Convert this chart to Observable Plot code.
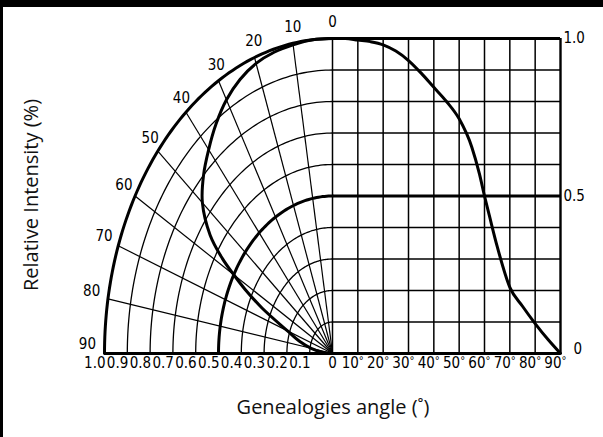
<!DOCTYPE html>
<html><head><meta charset="utf-8">
<script src="https://cdn.jsdelivr.net/npm/d3@7"></script>
<script src="https://cdn.jsdelivr.net/npm/@observablehq/plot@0.6"></script>
<style>
html,body{margin:0;padding:0;background:#fff;}
#wrap{position:relative;width:603px;height:437px;overflow:hidden;background:#fff;}
#chart{position:absolute;left:0;top:0;}
.bar-top{position:absolute;left:0;top:0;width:603px;height:7px;background:#000;}
.bar-left{position:absolute;left:0;top:0;width:3px;height:437px;background:#000;}
.ytitle{position:absolute;left:30px;top:195px;transform:translate(-50%,-50%) rotate(-90deg);white-space:nowrap;font-family:"Open Sans",sans-serif;font-size:20px;color:#111;}
.xtitle{position:absolute;left:333px;top:406px;transform:translate(-50%,-50%);white-space:nowrap;font-family:"Open Sans",sans-serif;font-size:20px;color:#111;}
</style>
</head><body>
<div id="wrap">
  <div id="chart"></div>
  <div class="bar-top"></div>
  <div class="bar-left"></div>
  <div class="ytitle">Relative Intensity (%)</div>
  <div class="xtitle">Genealogies angle (˚)</div>
</div>
<script>
// ---- data ----
const polarAngles = [0, 10, 20, 30, 40, 50, 60, 70, 80, 90];          // angle labels on the arc
const radialAngles = [10, 20, 30, 40, 50, 60, 70, 80];                // radial grid lines
const radii = [0.1, 0.2, 0.3, 0.4, 0.5, 0.6, 0.7, 0.8, 0.9, 1.0];     // circular grid
const thickRadii = [0.5, 1.0];
const gridAngles = [0, 10, 20, 30, 40, 50, 60, 70, 80, 90];           // cartesian verticals
const gridLevels = [0.1, 0.2, 0.3, 0.4, 0.6, 0.7, 0.8, 0.9];          // cartesian thin horizontals
const thickLevels = [0.5, 1.0];
const leftTickValues = [1.0, 0.9, 0.8, 0.7, 0.6, 0.5, 0.4, 0.3, 0.2, 0.1];
const leftTickLabels = ["1.0", "0.9", "0.8", "0.7", "0.6", "0.5", "0.4", "0.3", "0.2", "0.1"];
const rightTickValues = [10, 20, 30, 40, 50, 60, 70, 80, 90];
const yTickValues = [1.0, 0.5];
const yTickLabels = ["1.0", "0.5"];
// measured radiation pattern: angle (deg) -> relative intensity
const curveAngle = [0, 5, 10, 15, 20, 25, 30, 35, 40, 45, 50, 55, 58, 60, 62, 65, 70, 75, 80, 85, 90];
const curveIntensity = [1.0, 1.0, 0.995, 0.99, 0.98, 0.96, 0.93, 0.89, 0.845, 0.80, 0.745, 0.655, 0.57, 0.50, 0.435, 0.34, 0.21, 0.15, 0.095, 0.045, 0.0];

// ---- derived tables ----
const rad = d => d * Math.PI / 180;
const arcPts = [];
for (const r of radii) for (let a = 0; a <= 90; a += 1) arcPts.push({r, x: -r * Math.sin(rad(a)), y: r * Math.cos(rad(a))});
const radial = radialAngles.map(a => ({x1: 0, y1: 0, x2: -Math.sin(rad(a)), y2: Math.cos(rad(a))}));
const curve = curveAngle.map((a, i) => ({a, v: curveIntensity[i]}));
const polarCurve = curve.map(d => ({x: -d.v * Math.sin(rad(d.a)), y: d.v * Math.cos(rad(d.a))}));
const cartCurve = curve.map(d => ({x: d.a / 90, y: d.v}));
const angleLabels = polarAngles.map(a => {
  const s = Math.sin(rad(a)), c = Math.cos(rad(a));
  return {t: String(a), x: -s * (1 + 0.075 * s * s), y: 1.035 * c + 0.018 + (a === 90 ? 0.012 : 0)};
});
const leftLabels = leftTickValues.map((v, i) => ({x: -v, t: leftTickLabels[i]}));
const rightLabels = rightTickValues.map(a => ({x: a / 90, t: String(a)}));
const yLabels = yTickValues.map((v, i) => ({y: v, t: yTickLabels[i]}));

const tickFont = "'Liberation Sans Narrow', 'DejaVu Sans Condensed', sans-serif";

const chart = Plot.plot({
  width: 603, height: 437,
  marginLeft: 104, marginRight: 43, marginTop: 38, marginBottom: 84,
  x: {domain: [-1, 1], axis: null},
  y: {domain: [0, 1], axis: null},
  style: {background: "transparent", fontFamily: tickFont, fontSize: "15px", color: "#000"},
  marks: [
    // cartesian grid (right half)
    Plot.ruleX(gridAngles, {x: d => d / 90, y1: 0, y2: 1, stroke: "#000", strokeWidth: 1.5}),
    Plot.ruleY(gridLevels, {y: d => d, x1: 0, x2: 1, stroke: "#000", strokeWidth: 1.5}),
    Plot.ruleY(thickLevels, {y: d => d, x1: 0, x2: 1, stroke: "#000", strokeWidth: 3}),
    Plot.ruleX([1], {y1: 0, y2: 1, stroke: "#000", strokeWidth: 2.2}),
    // polar grid (left half)
    Plot.line(arcPts.filter(d => !thickRadii.includes(d.r)), {x: "x", y: "y", z: "r", stroke: "#000", strokeWidth: 1.3}),
    Plot.line(arcPts.filter(d => thickRadii.includes(d.r)), {x: "x", y: "y", z: "r", stroke: "#000", strokeWidth: 3}),
    Plot.link(radial, {x1: "x1", y1: "y1", x2: "x2", y2: "y2", stroke: "#000", strokeWidth: 1.2}),
    Plot.ruleY([0], {x1: -1, x2: 1, stroke: "#000", strokeWidth: 3.2}),
    // intensity curves
    Plot.line(polarCurve, {x: "x", y: "y", curve: "catmull-rom", stroke: "#000", strokeWidth: 3}),
    Plot.line(cartCurve, {x: "x", y: "y", curve: "monotone-x", stroke: "#000", strokeWidth: 3}),
    // labels
    Plot.text(angleLabels, {x: "x", y: "y", text: "t", textAnchor: "middle", lineAnchor: "middle", fill: "#000"}),
    Plot.text(leftLabels, {x: "x", y: 0, text: "t", textAnchor: "end", lineAnchor: "top", dy: 4, dx: 1, fill: "#000"}),
    Plot.text([0], {x: 0, y: 0, text: d => "0", textAnchor: "middle", lineAnchor: "top", dy: 4, fill: "#000"}),
    Plot.text(rightLabels, {x: "x", y: 0, text: "t", textAnchor: "end", lineAnchor: "top", dy: 4, dx: 1, fill: "#000"}),
    Plot.text(rightLabels, {x: "x", y: 0, text: d => "°", textAnchor: "start", lineAnchor: "top", dy: 3, dx: 1, fontSize: 11, fill: "#000"}),
    Plot.text(yLabels, {x: 1, y: "y", text: "t", textAnchor: "start", lineAnchor: "middle", dx: 3, fill: "#000"}),
    Plot.text([0], {x: 1, y: 0, text: d => "0", textAnchor: "start", lineAnchor: "middle", dx: 13, dy: -4, fill: "#000"})
  ]
});
document.getElementById("chart").appendChild(chart);
</script>
</body></html>
